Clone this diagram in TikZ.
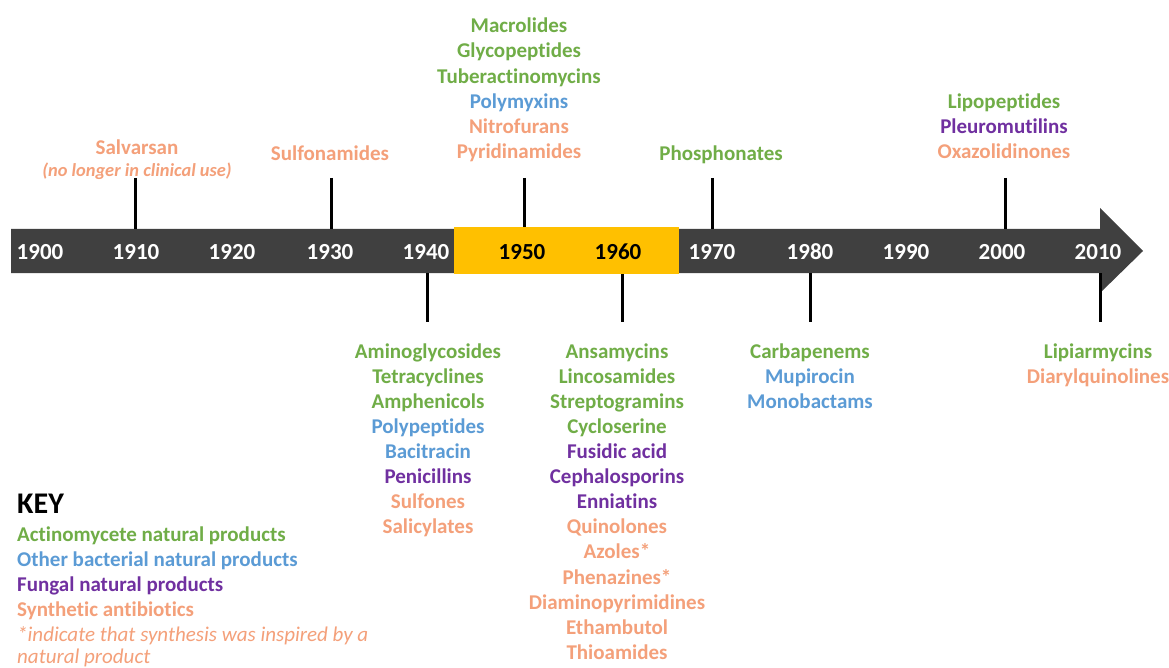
\documentclass[tikz,border=0pt]{standalone}
\usepackage{fontspec}
\setmainfont{Carlito}[Ligatures=NoCommon]
\definecolor{ac}{HTML}{70AD47}
\definecolor{ob}{HTML}{5B9BD5}
\definecolor{fu}{HTML}{7030A0}
\definecolor{sy}{HTML}{F4A07A}
\definecolor{barc}{HTML}{404040}
\definecolor{hl}{HTML}{FFC000}
\begin{document}
\begin{tikzpicture}[x=1pt,y=-1pt,
  lbl/.style={font=\bfseries\fontsize{21}{24}\selectfont, inner sep=0pt, anchor=base},
  yr/.style={lbl, font=\bfseries\fontsize{23}{25}\selectfont},
  keyl/.style={font=\bfseries\fontsize{21}{24}\selectfont, inner sep=0pt, anchor=base west},
  tickl/.style={line width=3pt, black}]
\useasboundingbox (0,0) rectangle (1169,668);
\fill[white] (0,0) rectangle (1169,668);
% timeline arrow
\fill[barc] (11,229) -- (1100,229) -- (1100,208) -- (1143,251) -- (1100,293) -- (1100,273) -- (11,273) -- cycle;
\fill[hl] (454,227) rectangle (679,274);
% years
\foreach \x/\y/\c in {40/1900/white,136/1910/white,232/1920/white,330/1930/white,426/1940/white,522/1950/black,618/1960/black,712/1970/white,810/1980/white,906/1990/white,1002/2000/white,1098/2010/white}
  \node[yr, text=\c] (y\y) at (\x,259) {\y};
% ticks
\foreach \n/\x/\a/\b in {t1910/135/178/229,t1930/331/178/229,t1950/524/178/227,t1970/712/178/229,t2000/1005/178/229,t1940/427/273/322,t1960/622/274/322,t1980/810/273/322,t2010/1100/273/322}{
  \coordinate (\n a) at (\x,\a);
  \coordinate (\n b) at (\x,\b);
  \draw[tickl] (\n a) -- (\n b);
}
% labels above
\node[lbl, text=sy] (salv) at (137,155) {Salvarsan};
\node[lbl, text=sy, font=\bfseries\itshape\fontsize{18.4}{20}\selectfont] (salvnote) at (137,176.5) {(no longer in clinical use)};
\node[lbl, text=sy] (sulf) at (330,161) {Sulfonamides};
\node[lbl, text=ac] (phos) at (721,161) {Phosphonates};
\foreach \t/\c [count=\i] in {Macrolides/ac,Glycopeptides/ac,Tuberactinomycins/ac,Polymyxins/ob,Nitrofurans/sy,Pyridinamides/sy}
  \node[lbl, text=\c] (a1950-\i) at (519,7.5+25.2*\i) {\t};
\foreach \t/\c [count=\i] in {Lipopeptides/ac,Pleuromutilins/fu,Oxazolidinones/sy}
  \node[lbl, text=\c] (a2000-\i) at (1004,83.5+25*\i) {\t};
% labels below
\foreach \t/\c [count=\i] in {Aminoglycosides/ac,Tetracyclines/ac,Amphenicols/ac,Polypeptides/ob,Bacitracin/ob,Penicillins/fu,Sulfones/sy,Salicylates/sy}
  \node[lbl, text=\c] (b1940-\i) at (428,333+25.1*\i) {\t};
\foreach \t/\c [count=\i] in {Ansamycins/ac,Lincosamides/ac,Streptogramins/ac,Cycloserine/ac,{Fusidic acid}/fu,Cephalosporins/fu,Enniatins/fu,Quinolones/sy,{Azoles*}/sy,{Phenazines*}/sy,Diaminopyrimidines/sy,Ethambutol/sy,Thioamides/sy}
  \node[lbl, text=\c] (b1960-\i) at (617,333+25.1*\i) {\t};
\foreach \t/\c [count=\i] in {Carbapenems/ac,Mupirocin/ob,Monobactams/ob}
  \node[lbl, text=\c] (b1980-\i) at (810,333+25*\i) {\t};
\foreach \t/\c [count=\i] in {Lipiarmycins/ac,Diarylquinolines/sy}
  \node[lbl, text=\c] (b2010-\i) at (1098,333+25*\i) {\t};
% key
\node[keyl, font=\bfseries\fontsize{30}{32}\selectfont] (key) at (17,513) {KEY};
\node[keyl, text=ac] (k1) at (17,541) {Actinomycete natural products};
\node[keyl, text=ob] (k2) at (17,566) {Other bacterial natural products};
\node[keyl, text=fu] (k3) at (17,591) {Fungal natural products};
\node[keyl, text=sy] (k4) at (17,616) {Synthetic antibiotics};
\node[keyl, text=sy, font=\itshape\fontsize{21}{24}\selectfont] (k5) at (17,641) {*indicate that synthesis was inspired by a};
\node[keyl, text=sy, font=\itshape\fontsize{21}{24}\selectfont] (k6) at (17,663) {natural product};
\end{tikzpicture}
\end{document}
